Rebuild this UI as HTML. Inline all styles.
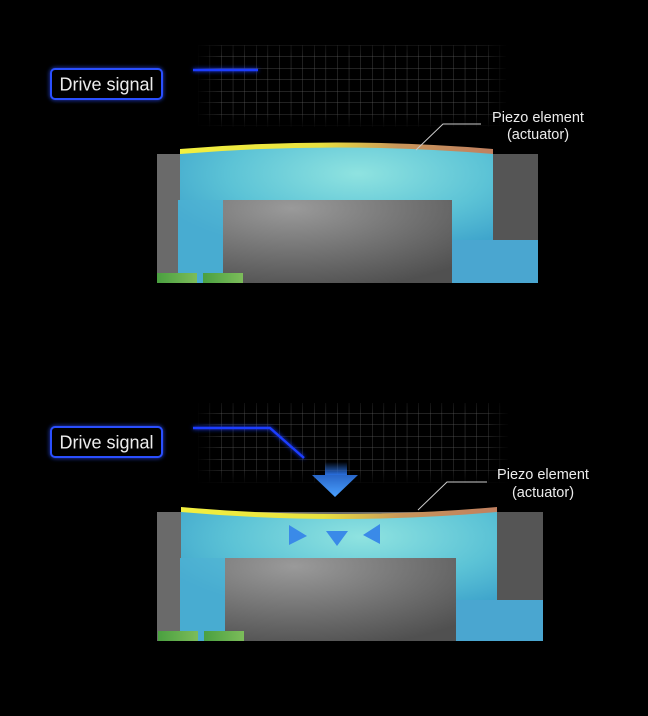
<!DOCTYPE html>
<html><head><meta charset="utf-8"><style>
html,body{margin:0;padding:0;background:#000;}
svg{display:block}
text{font-family:"Liberation Sans",sans-serif;fill:#ececec}
</style></head><body>
<svg width="648" height="716" viewBox="0 0 648 716" xmlns="http://www.w3.org/2000/svg">
<defs>
<pattern id="grid" x="198" y="45" width="11.6" height="11.5" patternUnits="userSpaceOnUse">
<path d="M0 0V11.5M0 0H11.6" stroke="#5a5a5a" stroke-width="0.7" fill="none"/>
</pattern>
<linearGradient id="fadeX" x1="0" x2="1"><stop offset="0" stop-color="#000" stop-opacity="1"/><stop offset="0.08" stop-color="#000" stop-opacity="0"/><stop offset="0.92" stop-color="#000" stop-opacity="0"/><stop offset="1" stop-color="#000" stop-opacity="1"/></linearGradient>
<linearGradient id="fadeY" x1="0" y1="0" x2="0" y2="1"><stop offset="0" stop-color="#000" stop-opacity="0.6"/><stop offset="0.15" stop-color="#000" stop-opacity="0"/><stop offset="0.8" stop-color="#000" stop-opacity="0"/><stop offset="1" stop-color="#000" stop-opacity="1"/></linearGradient>
<radialGradient id="cyan" cx="0.5" cy="0.2" r="0.6"><stop offset="0" stop-color="#8fe3e0"/><stop offset="0.6" stop-color="#5cc3d6"/><stop offset="1" stop-color="#3fa5cc"/></radialGradient>
<radialGradient id="grayblk" cx="0.3" cy="0.1" r="1"><stop offset="0" stop-color="#9a9a9a"/><stop offset="1" stop-color="#505050"/></radialGradient>
<linearGradient id="piezo" x1="0" x2="1"><stop offset="0" stop-color="#f2f040"/><stop offset="0.45" stop-color="#e8e040"/><stop offset="0.7" stop-color="#c8955a"/><stop offset="1" stop-color="#c08060"/></linearGradient>
<linearGradient id="green" x1="0" x2="1"><stop offset="0" stop-color="#4aa040"/><stop offset="1" stop-color="#7cbc5a"/></linearGradient>
<linearGradient id="arrowStem" x1="0" y1="0" x2="0" y2="1"><stop offset="0" stop-color="#2a70e0" stop-opacity="0"/><stop offset="1" stop-color="#2a70e0"/></linearGradient>
<linearGradient id="arrowHead" x1="0" y1="0" x2="0" y2="1"><stop offset="0" stop-color="#2866c8"/><stop offset="1" stop-color="#4aa0ff"/></linearGradient>
<filter id="glow" filterUnits="userSpaceOnUse" x="0" y="0" width="648" height="716"><feGaussianBlur stdDeviation="2" result="b"/><feMerge><feMergeNode in="b"/><feMergeNode in="SourceGraphic"/></feMerge></filter>
</defs>

<!-- TOP -->
<rect x="198" y="45" width="308" height="82" fill="url(#grid)"/>
<rect x="196" y="43" width="312" height="86" fill="url(#fadeX)"/>
<rect x="196" y="43" width="312" height="86" fill="url(#fadeY)"/>
<line x1="193" y1="70" x2="258" y2="70" stroke="#1a3cff" stroke-width="2.5" filter="url(#glow)"/>
<rect x="51" y="69" width="111" height="30" rx="4" fill="#000" stroke="#2a50ff" stroke-width="2" filter="url(#glow)"/>
<text x="106.5" y="90.5" font-size="18" text-anchor="middle">Drive signal</text>
<text x="538" y="122" font-size="14.5" text-anchor="middle">Piezo element</text>
<text x="538" y="139" font-size="14.5" text-anchor="middle">(actuator)</text>

<rect x="157" y="154" width="381" height="129" fill="#6a6a6a"/>
<rect x="490" y="154" width="48" height="86" fill="#555"/>
<path d="M180 153 Q336 140 493 153 V240H538V283H447V240H452V200H223V283H178V200H180Z" fill="url(#cyan)"/>
<path d="M178 200H223V283H178Z" fill="#4fb0d4" opacity="0.6"/>
<path d="M447 240H538V283H447Z" fill="#4aa6d0"/>
<rect x="223" y="200" width="229" height="83" fill="url(#grayblk)"/>
<path d="M180 149 Q336 136 493 149 L493 154 Q336 141 180 154Z" fill="url(#piezo)"/>
<rect x="157" y="273" width="40" height="10" fill="url(#green)"/>
<rect x="203" y="273" width="40" height="10" fill="url(#green)"/>
<polyline points="481,124 443,124 416,150" fill="none" stroke="#cccccc" stroke-width="1"/>

<!-- BOTTOM -->
<rect x="198" y="403" width="310" height="80" fill="url(#grid)"/>
<rect x="196" y="401" width="314" height="84" fill="url(#fadeX)"/>
<rect x="196" y="401" width="314" height="84" fill="url(#fadeY)"/>
<polyline points="193,428 270,428 304,458" fill="none" stroke="#1a3cff" stroke-width="2.5" filter="url(#glow)"/>
<rect x="51" y="427" width="111" height="30" rx="4" fill="#000" stroke="#2a50ff" stroke-width="2" filter="url(#glow)"/>
<text x="106.5" y="448.5" font-size="18" text-anchor="middle">Drive signal</text>
<text x="543" y="479" font-size="14.5" text-anchor="middle">Piezo element</text>
<text x="543" y="497" font-size="14.5" text-anchor="middle">(actuator)</text>

<rect x="157" y="512" width="386" height="129" fill="#6a6a6a"/>
<rect x="493" y="512" width="50" height="88" fill="#555"/>
<path d="M181 511 Q339 525 497 511 V600H543V641H451V600H456V558H225V641H180V558H181Z" fill="url(#cyan)"/>
<path d="M180 558H225V641H180Z" fill="#4fb0d4" opacity="0.6"/>
<path d="M451 600H543V641H451Z" fill="#4aa6d0"/>
<rect x="225" y="558" width="231" height="83" fill="url(#grayblk)"/>
<path d="M181 507 Q339 521 497 507 L497 512 Q339 526 181 512Z" fill="url(#piezo)"/>
<rect x="158" y="631" width="40" height="10" fill="url(#green)"/>
<rect x="204" y="631" width="40" height="10" fill="url(#green)"/>
<polyline points="487,482 447,482 418,510" fill="none" stroke="#cccccc" stroke-width="1"/>

<!-- arrows -->
<rect x="325" y="462" width="22" height="13" fill="url(#arrowStem)"/>
<path d="M312 475H358L335 497Z" fill="url(#arrowHead)"/>
<path d="M289 525L307 536L289 545Z" fill="#3a8ae8"/>
<path d="M326 531H348L337 546Z" fill="#3a8ae8"/>
<path d="M380 524L363 535L380 544Z" fill="#3a8ae8"/>
</svg>
</body></html>
